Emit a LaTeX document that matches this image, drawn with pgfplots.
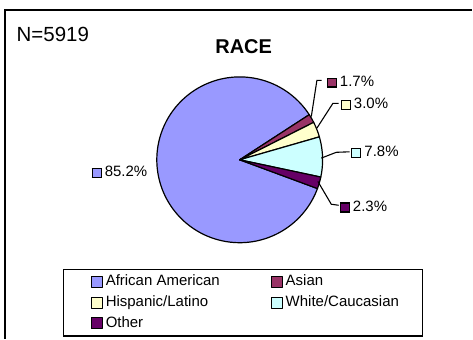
\documentclass[border=0pt]{standalone}
\usepackage{pgfplots}
\pgfplotsset{compat=1.18}
\usepackage{pgfplotstable}
\usepackage{fontspec}
\setmainfont{Liberation Sans}
\definecolor{cAA}{HTML}{9999FF}
\definecolor{cAs}{HTML}{993366}
\definecolor{cHi}{HTML}{FFFFCC}
\definecolor{cWh}{HTML}{CCFFFF}
\definecolor{cOt}{HTML}{660066}

\pgfplotstableread{
group pct
AfricanAmerican 85.2
Asian 1.7
Hispanic 3.0
White 7.8
Other 2.3
}\racedata

\newcommand\getpct[2]{\pgfplotstablegetelem{#1}{pct}\of\racedata\global\let#2\pgfplotsretval}
\newcommand\keybox[1]{{\setlength\fboxsep{0pt}\setlength\fboxrule{1.2bp}\fcolorbox{black}{#1}{\rule{0pt}{7.8bp}\rule{7.8bp}{0pt}}}}
\newcommand\lblfont{\fontsize{15bp}{17bp}\selectfont}

\begin{document}%
\begin{tikzpicture}
\getpct{0}\pA\getpct{1}\pB\getpct{2}\pC\getpct{3}\pD\getpct{4}\pE
\pgfmathsetmacro\sA{-20.3}
\pgfmathsetmacro\eA{\sA-3.6*\pA}
\pgfmathsetmacro\eB{\eA-3.6*\pB}
\pgfmathsetmacro\eC{\eB-3.6*\pC}
\pgfmathsetmacro\eD{\eC-3.6*\pD}
\pgfmathsetmacro\eE{\eD-3.6*\pE}
\begin{axis}[
  hide axis, scale only axis, width=473bp, height=339bp,
  xmin=0, xmax=473, ymin=0, ymax=339, y dir=reverse, clip=false,
  legend columns=2,
  legend image code/.code={\draw[#1, draw=black, line width=1.2bp] (0bp,-5.5bp) rectangle (11bp,5.5bp);},
  legend style={at={(0.1332,0.0059)}, anchor=south west, draw=black, line width=1.4bp,
    inner xsep=27bp, inner ysep=6bp, row sep=7.8bp, column sep=3bp,
    font=\lblfont, cells={anchor=west},
    nodes={inner xsep=0pt, inner ysep=0pt, text height=10.5bp, text depth=2.5bp}},
]
\path (axis cs:0,0) rectangle (axis cs:473,339);
\draw[line width=1.2bp] (axis cs:5,339) -- (axis cs:5,10) -- (axis cs:473,10);

\addplot[fill=cAA, draw=black, line width=1.2bp, line join=round, domain=\eA:\sA, samples=150, variable=\t]
  ({240+83*cos(t)},{160-83*sin(t)}) -- (axis cs:240,160) -- cycle;
\addlegendentry{\makebox[162bp][l]{African American}}
\addplot[fill=cAs, draw=black, line width=1.2bp, line join=round, domain=\eB:\eA, samples=10, variable=\t]
  ({240+83*cos(t)},{160-83*sin(t)}) -- (axis cs:240,160) -- cycle;
\addlegendentry{\makebox[110bp][l]{Asian}}
\addplot[fill=cHi, draw=black, line width=1.2bp, line join=round, domain=\eC:\eB, samples=12, variable=\t]
  ({240+83*cos(t)},{160-83*sin(t)}) -- (axis cs:240,160) -- cycle;
\addlegendentry{\makebox[162bp][l]{Hispanic/Latino}}
\addplot[fill=cWh, draw=black, line width=1.2bp, line join=round, domain=\eD:\eC, samples=25, variable=\t]
  ({240+83*cos(t)},{160-83*sin(t)}) -- (axis cs:240,160) -- cycle;
\addlegendentry{\makebox[110bp][l]{White/Caucasian}}
\addplot[fill=cOt, draw=black, line width=1.2bp, line join=round, domain=\eE:\eD, samples=10, variable=\t]
  ({240+83*cos(t)},{160-83*sin(t)}) -- (axis cs:240,160) -- cycle;
\addlegendentry{\makebox[162bp][l]{Other}}

% leader lines
\draw[line width=1.1bp] (axis cs:311.7,116.7) -- (axis cs:317.3,80.5) -- (axis cs:322,80.5);
\draw[line width=1.1bp] (axis cs:317.3,128.3) -- (axis cs:333.3,103.5) -- (axis cs:339,103.5);
\draw[line width=1.1bp] (axis cs:321.7,158.3) -- (axis cs:336.7,152.5) -- (axis cs:350,152);
\draw[line width=1.1bp] (axis cs:318.3,181.7) -- (axis cs:331.7,204.5) -- (axis cs:339,205.5);

% data labels
\node[anchor=west, inner sep=0pt, font=\lblfont] at (axis cs:327,82) {\keybox{cAs}\hspace{3bp}1.7\%};
\node[anchor=west, inner sep=0pt, font=\lblfont] at (axis cs:341,104.5) {\keybox{cHi}\hspace{3bp}3.0\%};
\node[anchor=west, inner sep=0pt, font=\lblfont] at (axis cs:351.5,152.5) {\keybox{cWh}\hspace{3bp}7.8\%};
\node[anchor=west, inner sep=0pt, font=\lblfont] at (axis cs:340,207) {\keybox{cOt}\hspace{3bp}2.3\%};
\node[anchor=west, inner sep=0pt, font=\lblfont] at (axis cs:91.5,172.5) {\keybox{cAA}\hspace{3bp}85.2\%};

% titles
\node[anchor=west, inner sep=0pt, font=\fontsize{20.5bp}{24bp}\selectfont] at (axis cs:16.5,34) {N=5919};
\node[inner sep=0pt, font=\bfseries\fontsize{20bp}{24bp}\selectfont] at (axis cs:244,47) {RACE};
\end{axis}
\end{tikzpicture}%
\end{document}
